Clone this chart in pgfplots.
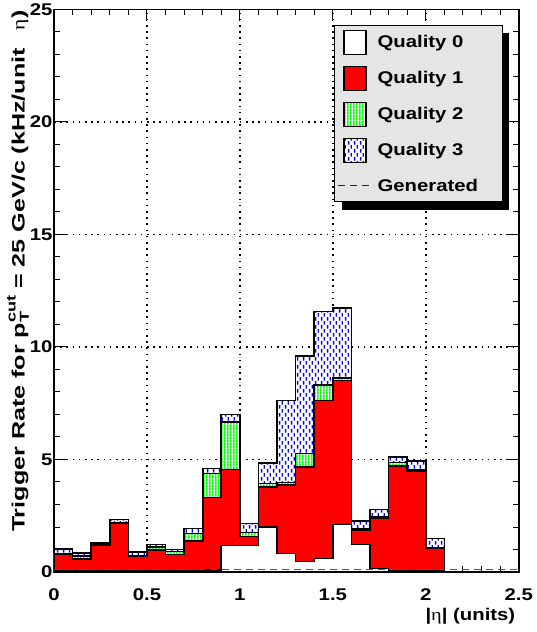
\documentclass[border=0pt]{standalone}
\usepackage{fontspec}
\setmainfont{Liberation Sans}[FakeStretch=1.2]
\newfontfamily\ylabfont{Liberation Sans}[FakeStretch=1.4]
\newfontfamily\greekf{Liberation Serif}[FakeStretch=1.2]
\usepackage{pgfplots}
\pgfplotsset{compat=1.18}
\usepackage{pgfplotstable}
\usetikzlibrary{patterns}

\pgfdeclarepatternformonly{gstripes}{\pgfqpoint{0bp}{0bp}}{\pgfqpoint{2.8bp}{2.8bp}}{\pgfqpoint{2.8bp}{2.8bp}}{%
  \pgfpathrectangle{\pgfqpoint{0bp}{0bp}}{\pgfqpoint{1.8bp}{2.8bp}}\pgfusepath{fill}}
\pgfdeclarepatternformonly{bdash}{\pgfqpoint{0bp}{0bp}}{\pgfqpoint{5.6bp}{8bp}}{\pgfqpoint{5.6bp}{8bp}}{%
  \pgfpathrectangle{\pgfqpoint{1bp}{0.3bp}}{\pgfqpoint{1.5bp}{3.6bp}}%
  \pgfpathrectangle{\pgfqpoint{3.8bp}{4.3bp}}{\pgfqpoint{1.5bp}{3.6bp}}%
  \pgfusepath{fill}}

\pgfplotstableread{
x   c0   c1   c2   c3   gen
0.0 0.05 0.78 0.80 1.02 0.10
0.1 0.05 0.58 0.72 0.85 0.10
0.2 0.05 1.20 1.28 1.32 0.10
0.3 0.05 2.16 2.19 2.34 0.10
0.4 0.05 0.71 0.74 0.90 0.10
0.5 0.05 0.98 1.10 1.23 0.10
0.6 0.05 0.78 0.92 1.00 0.10
0.7 0.05 1.39 1.71 1.94 0.10
0.8 0.10 3.31 4.37 4.60 0.10
0.9 1.18 4.55 6.66 6.99 0.10
1.0 1.18 1.57 1.76 2.16 0.10
1.1 2.01 3.78 3.93 4.85 0.10
1.2 0.83 3.86 3.97 7.62 0.10
1.3 0.46 4.67 5.26 9.59 0.10
1.4 0.61 7.62 8.32 11.57 0.10
1.5 2.11 8.51 8.61 11.73 0.10
1.6 1.23 1.86 1.92 2.26 0.10
1.7 0.16 2.41 2.45 2.78 0.10
1.8 0.05 4.71 4.86 5.11 0.10
1.9 0.05 4.49 4.52 4.92 0.10
2.0 0.05 1.05 1.07 1.49 0.10
2.1 0.02 0.02 0.02 0.02 0.10
2.5 0.02 0.02 0.02 0.02 0.10
}\datatable

\newcommand{\lblfont}{\fontsize{17}{20}\selectfont\bfseries}
\newcommand{\legbox}{\pgfpathrectangle{\pgfqpoint{0bp}{-12bp}}{\pgfqpoint{36bp}{24bp}}\pgfusepath{}}

\begin{document}
\begin{tikzpicture}
\begin{axis}[
  at={(0,0)}, anchor=south west,
  scale only axis, width=465bp, height=563bp,
  xmin=0, xmax=2.5, ymin=0, ymax=25,
  xtick={0,0.5,1,1.5,2,2.5}, ytick={0,5,10,15,20,25},
  minor x tick num=4, minor y tick num=4,
  tick align=inside,
  major tick length=12bp, minor tick length=6bp,
  every tick/.style={black, line width=1bp},
  axis line style={line width=1.6bp},
  grid=major,
  major grid style={black, line width=1.6bp, dash pattern=on 1.6bp off 4.6bp},
  /pgf/number format/assume math mode=true,
  tick label style={font=\lblfont},
  xticklabel style={yshift=-13bp},
  yticklabel style={xshift=2bp},
  xlabel={|{\greekf\mdseries η}| (units)},
  xlabel style={at={(axis description cs:1,0)}, anchor=north east, yshift=-33bp, font=\lblfont},
  ylabel={Trigger Rate for p\rlap{\raisebox{-0.45ex}{\fontsize{13}{13}\selectfont T}}\raisebox{0.95ex}{\fontsize{13}{13}\selectfont cut} = 25 GeV/c (kHz/unit\hspace{18bp}{\greekf\mdseries η})},
  ylabel style={at={(axis description cs:-0.0774,1)}, anchor=east, inner sep=1bp, font=\fontsize{18}{20}\ylabfont\bfseries},
  legsq/.style={legend image code/.code={\legbox \draw[##1, line width=1.2bp] (6bp,-12bp) rectangle (28bp,12bp);}},
  legline/.style={legend image code/.code={\legbox \draw[##1] (0bp,0bp) -- (36bp,0bp);}},
  legend cell align=left,
  legend style={at={(axis cs:1.505,24.29)}, anchor=north west, fill=black!10, draw=black, line width=1.2bp,
    inner xsep=3bp, inner ysep=3.9bp, row sep=10.8bp, column sep=3bp, font=\lblfont, nodes={inner sep=0bp}},
]
\addplot[const plot, draw=black, line width=1.6bp, fill=white, postaction={pattern=bdash, pattern color=blue}, forget plot] table[x=x,y=c3]{\datatable} \closedcycle;
\addplot[const plot, draw=black, line width=1.6bp, fill=white, postaction={pattern=gstripes, pattern color=green}, forget plot] table[x=x,y=c2]{\datatable} \closedcycle;
\addplot[const plot, draw=black, line width=1.6bp, fill=red, forget plot] table[x=x,y=c1]{\datatable} \closedcycle;
\addplot[const plot, draw=black, line width=1.6bp, fill=white, forget plot] table[x=x,y=c0]{\datatable} \closedcycle;
\addplot[const plot, gray!70!black, line width=1.3bp, dash pattern=on 7bp off 5bp, forget plot] table[x=x,y=gen]{\datatable};
\fill[black] (axis cs:1.548,23.935) rectangle (axis cs:2.446,16.075);

\addlegendimage{legsq, fill=white}
\addlegendentry{\makebox[122bp][l]{Quality 0}}
\addlegendimage{legsq, fill=red}
\addlegendentry{\makebox[122bp][l]{Quality 1}}
\addlegendimage{legsq, fill=white, postaction={pattern=gstripes, pattern color=green}}
\addlegendentry{\makebox[122bp][l]{Quality 2}}
\addlegendimage{legsq, fill=white, postaction={pattern=bdash, pattern color=blue}}
\addlegendentry{\makebox[122bp][l]{Quality 3}}
\addlegendimage{legline, gray!30!black, line width=1.3bp, dash pattern=on 7bp off 5bp}
\addlegendentry{\makebox[122bp][l]{Generated}}
\end{axis}
\path (-54bp,-60bp) rectangle (481bp,572bp);
\end{tikzpicture}
\end{document}
